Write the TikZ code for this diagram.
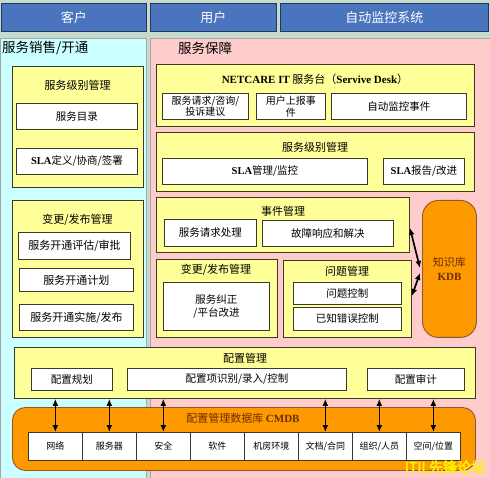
\documentclass[tikz,border=0pt]{standalone}
\usepackage{fontspec}
\setmainfont{Noto Sans CJK SC}
\newfontfamily\latf{Liberation Serif}
\newfontfamily\wmfont[FakeBold=3]{Noto Sans CJK SC}
\newcommand\LB[1]{{\latf\bfseries #1}}
\usetikzlibrary{arrows.meta}
\definecolor{bgc}{HTML}{C6DACE}
\definecolor{hdrblue}{HTML}{4A74BD}
\definecolor{hdredge}{HTML}{23385F}
\definecolor{cyanp}{HTML}{CCFFFF}
\definecolor{pinkp}{HTML}{FFCCCC}
\definecolor{yel}{HTML}{FFFF99}
\definecolor{org}{HTML}{FF9900}
\definecolor{edge}{HTML}{3A3A2A}
\definecolor{brn}{HTML}{6B2E00}
\tikzset{
  hdr/.style={draw=hdredge, fill=hdrblue, text=white, line width=0.8pt, anchor=north west, inner sep=0pt, font=\fontsize{13}{15}\selectfont},
  panel/.style={draw=gray!70, line width=0.6pt, anchor=north west, inner sep=0pt},
  ybox/.style={draw=edge, fill=yel, line width=0.9pt, anchor=north west, inner sep=0pt},
  wbox/.style={draw=edge, fill=white, line width=0.9pt, anchor=north west, inner sep=0pt, align=center, font=\fontsize{10.5}{12.5}\selectfont},
  cell/.style={draw=edge, fill=white, line width=0.7pt, anchor=north west, inner sep=0pt, minimum width=54, minimum height=28, font=\fontsize{9}{11}\selectfont},
  obox/.style={draw=brn!80, fill=org, line width=0.9pt, anchor=north west, inner sep=0pt},
  ttl/.style={inner sep=0pt, font=\fontsize{11}{13}\selectfont},
  ptl/.style={inner sep=0pt, font=\fontsize{13.5}{15}\selectfont},
  dbl/.style={{Latex[length=7pt,width=6pt]}-{Latex[length=7pt,width=6pt]}, line width=1.7pt, black}
}
\begin{document}
\begin{tikzpicture}[x=1pt,y=-1pt]
\useasboundingbox (0,0) rectangle (490,478);
\fill[bgc] (0,0) rectangle (490,478);
% headers
\node[hdr, minimum width=145, minimum height=28] (hk) at (1,3) {客户};
\node[hdr, minimum width=126, minimum height=28] (hu) at (150,3) {用户};
\node[hdr, minimum width=208, minimum height=28] (hs) at (280,3) {自动监控系统};
% panels
\node[panel, fill=cyanp, minimum width=146, minimum height=441] (pl) at (0,38) {};
\node[panel, fill=pinkp, minimum width=341, minimum height=441] (pr) at (150,38) {};
\node[ptl, anchor=west] (plt) at (2,48) {服务销售/开通};
\node[ptl] (prt) at (205,48) {服务保障};
% left: service level
\node[ybox, minimum width=131, minimum height=121] (slmL) at (12,66) {};
\node[ttl] (slmLt) at (77.5,85) {服务级别管理};
\node[wbox, minimum width=121, minimum height=26] (cat) at (16,103) {服务目录};
\node[wbox, minimum width=121, minimum height=26] (slaL) at (16,148) {\LB{SLA}定义/协商/签署};
% left: change
\node[ybox, minimum width=131, minimum height=137] (chgL) at (12,200) {};
\node[ttl] (chgLt) at (77.5,220) {变更/发布管理};
\node[wbox, minimum width=112, minimum height=27, font=\fontsize{11}{13}\selectfont] (c1) at (18,232) {服务开通评估/审批};
\node[wbox, minimum width=114, minimum height=23, font=\fontsize{11}{13}\selectfont] (c2) at (19,268) {服务开通计划};
\node[wbox, minimum width=114, minimum height=26, font=\fontsize{11}{13}\selectfont] (c3) at (19,304) {服务开通实施/发布};
% right: service desk
\node[ybox, minimum width=318, minimum height=62] (desk) at (156,64) {};
\node[ttl] (deskt) at (315,79) {\LB{NETCARE IT} 服务台（\LB{Servive Desk}）};
\node[wbox, minimum width=86, minimum height=26, font=\fontsize{10}{11.5}\selectfont] (d1) at (162,93) {服务请求/咨询/\\投诉建议};
\node[wbox, minimum width=69, minimum height=26, font=\fontsize{10}{11.5}\selectfont] (d2) at (256,93) {用户上报事\\件};
\node[wbox, minimum width=135, minimum height=26] (d3) at (331,93) {自动监控事件};
% right: service level
\node[ybox, minimum width=318, minimum height=59] (slmR) at (156,132) {};
\node[ttl] (slmRt) at (315,147) {服务级别管理};
\node[wbox, minimum width=205, minimum height=26] (s1) at (162,158) {\LB{SLA}管理/监控};
\node[wbox, minimum width=81, minimum height=26] (s2) at (383,158) {\LB{SLA}报告/改进};
% incident
\node[ybox, minimum width=253, minimum height=55] (evt) at (156,197) {};
\node[ttl] (evtt) at (283,211) {事件管理};
\node[wbox, minimum width=92, minimum height=27] (e1) at (164,219) {服务请求处理};
\node[wbox, minimum width=131, minimum height=26] (e2) at (262,220) {故障响应和解决};
% change right
\node[ybox, minimum width=121, minimum height=78] (chgR) at (156,259) {};
\node[ttl] (chgRt) at (216,270) {变更/发布管理};
\node[wbox, minimum width=106, minimum height=48] (cr) at (163,282) {服务纠正\\/平台改进};
% problem
\node[ybox, minimum width=128, minimum height=77] (prob) at (283,260) {};
\node[ttl] (probt) at (347,271) {问题管理};
\node[wbox, minimum width=108, minimum height=22] (p1) at (293,282) {问题控制};
\node[wbox, minimum width=108, minimum height=23] (p2) at (293,307) {已知错误控制};
% KDB
\node[obox, rounded corners=16pt, minimum width=54, minimum height=137, align=center, text=brn, font=\fontsize{11}{14}\selectfont] (kdb) at (422,200) {知识库\\\LB{KDB}};
\draw[dbl] ([yshift=-3pt]evt.east) -- ([xshift=-2pt,yshift=1pt]kdb.west);
\draw[dbl] ([xshift=-2pt,yshift=-4pt]kdb.west) -- ([yshift=3pt]prob.east);
% configuration management
\node[ybox, minimum width=461, minimum height=51] (cfg) at (14,347) {};
\node[ttl] (cfgt) at (245,358) {配置管理};
\node[wbox, minimum width=81, minimum height=22] (g1) at (31,368) {配置规划};
\node[wbox, minimum width=219, minimum height=22] (g2) at (127,368) {配置项识别/录入/控制};
\node[wbox, minimum width=97, minimum height=22] (g3) at (367,368) {配置审计};
% CMDB
\node[obox, rounded corners=13pt, minimum width=463, minimum height=63] (cmdb) at (12,407) {};
\node[ttl, text=brn] (cmdbt) at (243,418) {配置管理数据库 \LB{CMDB}};
\node[cell] (k1) at (28,432) {网络};
\node[cell] (k2) at (82,432) {服务器};
\node[cell] (k3) at (136,432) {安全};
\node[cell] (k4) at (190,432) {软件};
\node[cell] (k5) at (244,432) {机房环境};
\node[cell] (k6) at (298,432) {文档/合同};
\node[cell] (k7) at (352,432) {组织/人员};
\node[cell] (k8) at (406,432) {空间/位置};
\foreach \k in {k1,k2,k3,k6,k7,k8}{
  \draw[dbl] (\k.north) -- (\k.north |- cfg.south);
}
% watermark
\node[inner sep=0pt, text=yellow, font=\wmfont\fontsize{14}{16}\selectfont] (wm) at (445,467) {ITIL先锋论坛};
\end{tikzpicture}
\end{document}
